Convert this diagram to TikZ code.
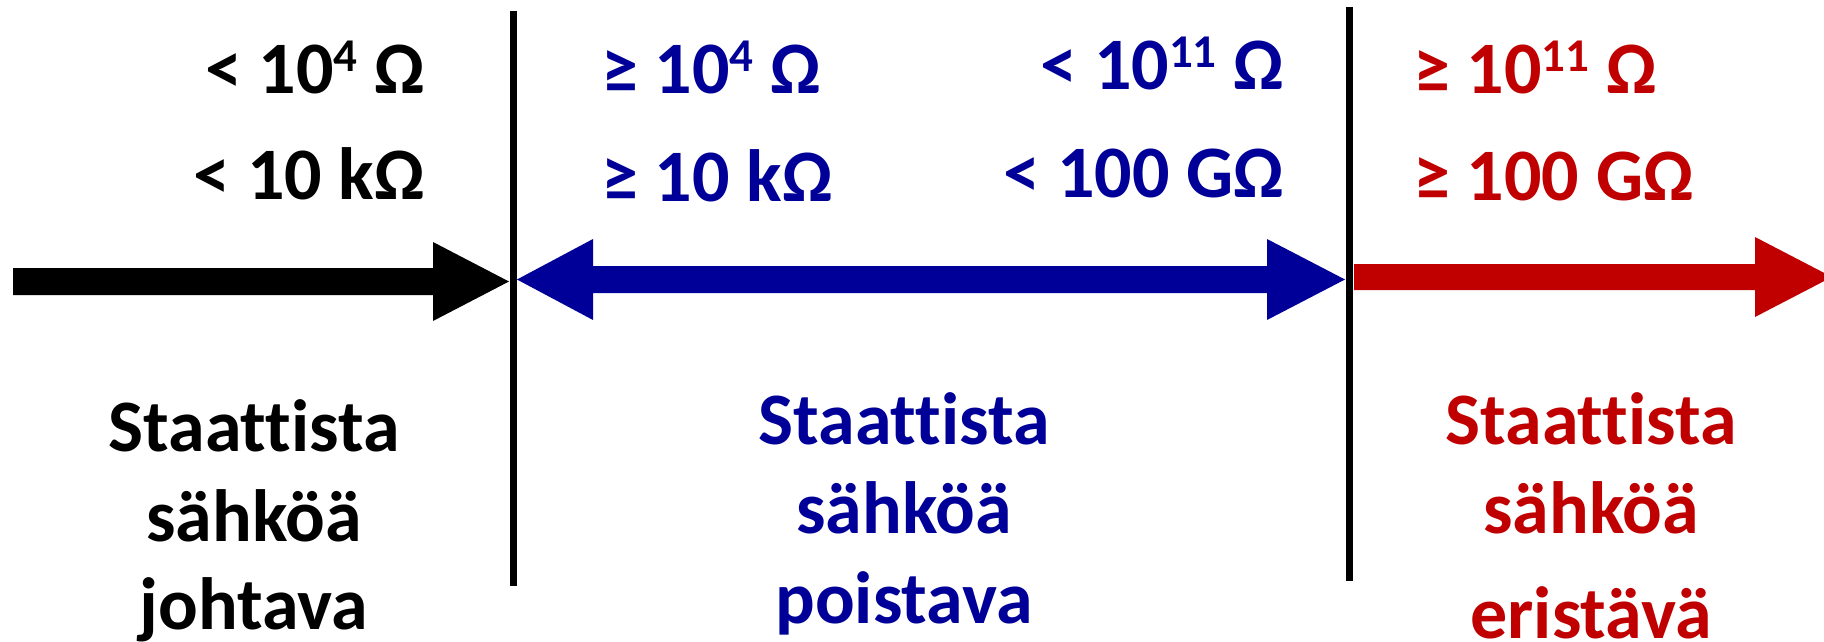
\documentclass[tikz,border=0pt]{standalone}
\usepackage{fontspec}
\setmainfont{Carlito}[Ligatures={NoCommon}]
\definecolor{myblue}{RGB}{0,0,153}
\definecolor{myred}{RGB}{192,0,0}
\newcommand{\myexp}[1]{\raisebox{22pt}{\fontsize{47}{47}\selectfont #1}}
\tikzset{
  lbl/.style={inner sep=0pt, font=\bfseries\fontsize{74}{89}\selectfont},
  sep/.style={line width=7pt, black},
}
\begin{document}
\begin{tikzpicture}[x=1pt,y=-1pt]
\useasboundingbox (0,0) rectangle (1824,642);
% arrows
\fill[black] (13,268) -- (433,268) -- (433,242) -- (509,281.5) -- (433,321) -- (433,295) -- (13,295) -- cycle;
\fill[myblue] (517,279.5) -- (593,239) -- (593,266) -- (1267,266) -- (1267,239) -- (1345,279.5) -- (1267,320) -- (1267,293) -- (593,293) -- (593,320) -- cycle;
\fill[myred] (1354,264) -- (1755,264) -- (1755,237) -- (1832,277) -- (1755,317) -- (1755,290) -- (1354,290) -- cycle;
% separators
\coordinate (l1) at (513,11); \coordinate (l2) at (513,586);
\coordinate (r1) at (1349,7); \coordinate (r2) at (1349,581);
\draw[sep] (l1) -- (l2);
\draw[sep] (r1) -- (r2);
% top labels
\node[lbl, anchor=base east] (b1) at (425,93) {< 10\myexp{4} Ω};
\node[lbl, anchor=base east] (b2) at (425,199) {< 10 kΩ};
\node[lbl, anchor=base west, text=myblue] (u1) at (601,93) {≥ 10\myexp{4} Ω};
\node[lbl, anchor=base west, text=myblue] (u2) at (601,201) {≥ 10 kΩ};
\node[lbl, anchor=base east, text=myblue] (u3) at (1284,89) {< 10\myexp{11} Ω};
\node[lbl, anchor=base east, text=myblue] (u4) at (1284,197) {< 100 GΩ};
\node[lbl, anchor=base west, text=myred] (r3) at (1413,93) {≥ 10\myexp{11} Ω};
\node[lbl, anchor=base west, text=myred] (r4) at (1413,200) {≥ 100 GΩ};
% bottom labels
\node[lbl, anchor=base] (bt1) at (254,451) {Staattista};
\node[lbl, anchor=base] (bt2) at (254,541) {sähköä};
\node[lbl, anchor=base] (bt3) at (254,629) {johtava};
\node[lbl, anchor=base, text=myblue] (ut1) at (904,444) {Staattista};
\node[lbl, anchor=base, text=myblue] (ut2) at (904,533) {sähköä};
\node[lbl, anchor=base, text=myblue] (ut3) at (904,623) {poistava};
\node[lbl, anchor=base, text=myred] (rt1) at (1591,444) {Staattista};
\node[lbl, anchor=base, text=myred] (rt2) at (1591,533) {sähköä};
\node[lbl, anchor=base, text=myred] (rt3) at (1591,638) {eristävä};
\end{tikzpicture}
\end{document}
